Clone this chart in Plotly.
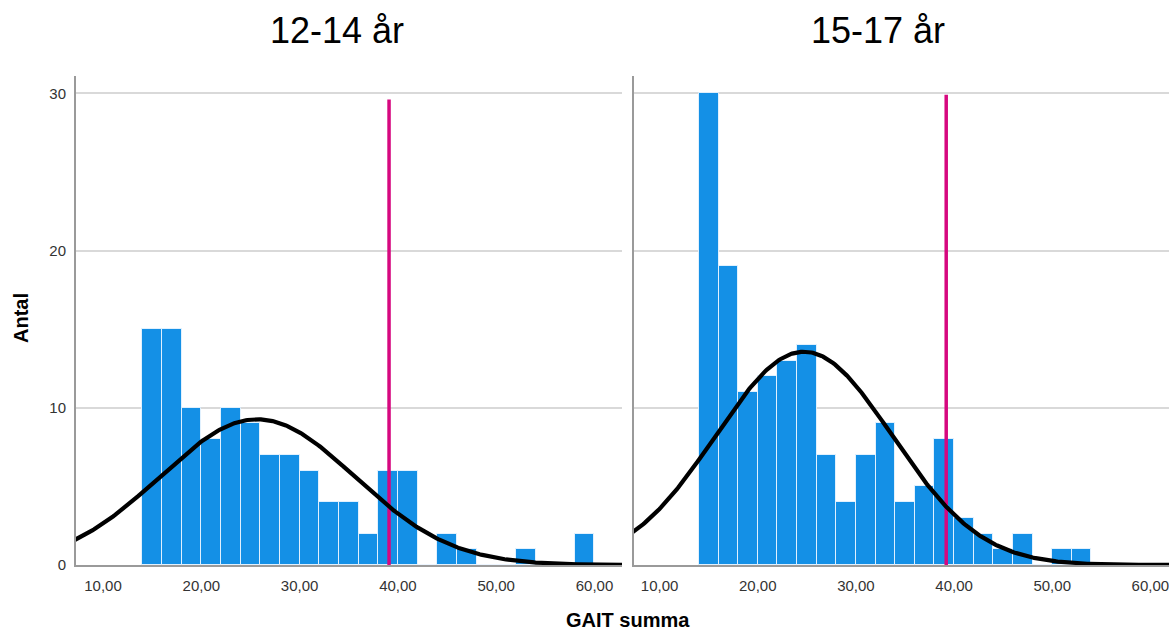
import numpy as np
import plotly.graph_objects as go

# ---- data ----
bin_width = 2
bin_starts_12_14 = [14, 16, 18, 20, 22, 24, 26, 28, 30, 32, 34, 36, 38, 40, 42, 44, 46, 48, 50, 52, 54, 56, 58]
counts_12_14 = [15, 15, 10, 8, 10, 9, 7, 7, 6, 4, 4, 2, 6, 6, 0, 2, 1, 0, 0, 1, 0, 0, 2]
bin_starts_15_17 = [14, 16, 18, 20, 22, 24, 26, 28, 30, 32, 34, 36, 38, 40, 42, 44, 46, 48, 50, 52]
counts_15_17 = [30, 19, 11, 12, 13, 14, 7, 4, 7, 9, 4, 5, 8, 3, 2, 1, 2, 0, 1, 1]

# normal-curve fit parameters
mean_12_14, sd_12_14 = 25.7, 9.9
mean_15_17, sd_15_17 = 24.7, 9.0

# reference (cut-off) lines
ref_x_12_14, ref_top_12_14 = 39.1, 29.6
ref_x_15_17, ref_top_15_17 = 39.2, 29.9

x_tickvals = [10, 20, 30, 40, 50, 60]
x_ticktext = ["10,00", "20,00", "30,00", "40,00", "50,00", "60,00"]
y_tickvals = [0, 10, 20, 30]
y_ticktext = ["0", "10", "20", "30"]

titles = ["12-14 år", "15-17 år"]
x_title = "GAIT summa"
y_title = "Antal"

# ---- figure ----
W, H = 1169, 632
FONT = "Liberation Sans, Arial, sans-serif"
BAR = "#1490E6"
MAG = "#D6087F"
GRID = "#d9d9d9"
AXIS = "#9a9a9a"


def curve(mean, sd, n, xs):
    return n * bin_width / (sd * np.sqrt(2 * np.pi)) * np.exp(-((xs - mean) ** 2) / (2 * sd ** 2))


fig = go.Figure()

panels = [
    (bin_starts_12_14, counts_12_14, mean_12_14, sd_12_14, ref_x_12_14, ref_top_12_14, "x", "y"),
    (bin_starts_15_17, counts_15_17, mean_15_17, sd_15_17, ref_x_15_17, ref_top_15_17, "x2", "y2"),
]
for starts, counts, mu, sd, rx, rtop, xa, ya in panels:
    centers = [s + bin_width / 2 for s in starts]
    fig.add_trace(go.Bar(
        x=centers, y=counts, width=bin_width,
        marker=dict(color=BAR, line=dict(color="rgba(235,245,255,0.9)", width=1)),
        xaxis=xa, yaxis=ya, showlegend=False, hoverinfo="x+y",
    ))
    fig.add_trace(go.Scatter(
        x=[rx, rx], y=[0, rtop], mode="lines",
        line=dict(color=MAG, width=3.5),
        xaxis=xa, yaxis=ya, showlegend=False,
    ))
    xs = np.linspace(5, 65, 400)
    fig.add_trace(go.Scatter(
        x=xs, y=curve(mu, sd, sum(counts), xs), mode="lines",
        line=dict(color="black", width=4.2),
        xaxis=xa, yaxis=ya, showlegend=False, cliponaxis=True,
    ))

ydom = [1 - 565 / H, 1 - 76 / H]
common_x = dict(
    tickvals=x_tickvals, ticktext=x_ticktext, showgrid=False, zeroline=False,
    showline=True, linecolor=AXIS, linewidth=2, ticks="",
    tickfont=dict(family=FONT, size=15, color="#333333"), ticklabelstandoff=6,
    ticklabeloverflow="allow", automargin=False, fixedrange=True,
)
common_y = dict(
    range=[0, 31.1], domain=ydom, tickvals=y_tickvals, ticktext=y_ticktext,
    showgrid=True, gridcolor=GRID, gridwidth=2, zeroline=False,
    showline=True, linecolor=AXIS, linewidth=2, ticks="",
    automargin=False, fixedrange=True,
)

fig.update_layout(
    width=W, height=H,
    margin=dict(l=0, r=0, t=0, b=0, pad=0),
    paper_bgcolor="white", plot_bgcolor="white",
    bargap=0,
    xaxis=dict(domain=[76 / W, 622 / W], range=[7.25, 62.8], anchor="y", **common_x),
    xaxis2=dict(domain=[634 / W, 1.0], range=[7.39, 61.9], anchor="y2", **common_x),
    yaxis=dict(anchor="x", tickfont=dict(family=FONT, size=15, color="#333333"),
               ticklabelstandoff=5, **common_y),
    yaxis2=dict(anchor="x2", showticklabels=False, **common_y),
    annotations=[
        dict(text=titles[0], x=337 / W, y=1 - 30 / H, xref="paper", yref="paper",
             showarrow=False, xanchor="center", yanchor="middle",
             font=dict(family=FONT, size=36, color="black")),
        dict(text=titles[1], x=878 / W, y=1 - 30 / H, xref="paper", yref="paper",
             showarrow=False, xanchor="center", yanchor="middle",
             font=dict(family=FONT, size=36, color="black")),
        dict(text="<b>" + x_title + "</b>", x=628 / W, y=1 - 620 / H, xref="paper", yref="paper",
             showarrow=False, xanchor="center", yanchor="middle",
             font=dict(family=FONT, size=20, color="black")),
        dict(text="<b>" + y_title + "</b>", x=21 / W, y=1 - 318 / H, xref="paper", yref="paper",
             showarrow=False, xanchor="center", yanchor="middle", textangle=-90,
             font=dict(family=FONT, size=20, color="black")),
    ],
)

fig.write_html("out.html")
